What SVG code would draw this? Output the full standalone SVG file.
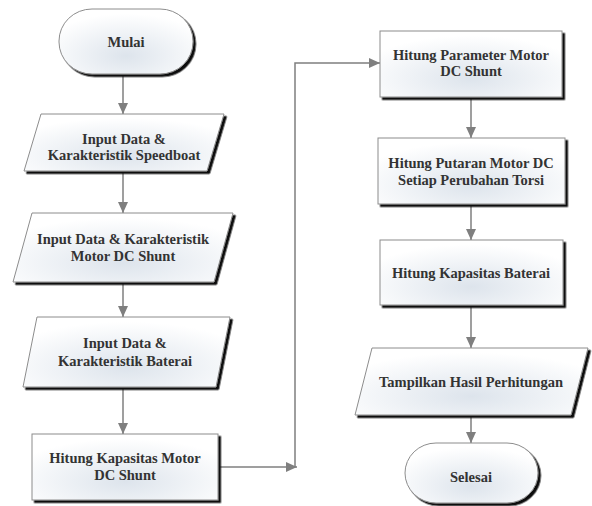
<svg xmlns="http://www.w3.org/2000/svg" width="592" height="506" viewBox="0 0 592 506">
<style>
.shape{fill:url(#fillg);stroke:#8c8c8c;stroke-width:1;filter:url(#sh)}
.t{font-weight:bold;font-size:14.5px;fill:#333;text-anchor:middle}
.c{fill:none;stroke:#7f7f7f;stroke-width:1.5}
</style>
<defs>
<radialGradient id="fillg" cx="50%" cy="72%" r="65%">
<stop offset="0" stop-color="#dde4ec"/>
<stop offset="1" stop-color="#ffffff"/>
</radialGradient>
<filter id="sh" x="-10%" y="-10%" width="125%" height="130%">
<feDropShadow dx="2.5" dy="2.5" stdDeviation="0.7" flood-color="#111" flood-opacity="1"/>
</filter>
<marker id="ah" markerWidth="11" markerHeight="10" refX="11" refY="5" orient="auto" markerUnits="userSpaceOnUse">
<path d="M0,0 L11,5 L0,10 Z" fill="#7f7f7f"/>
</marker>
</defs>
<rect width="592" height="506" fill="#fff"/>
<g id="connectors">
<line class="c" x1="123" y1="74" x2="123" y2="114" marker-end="url(#ah)"/>
<line class="c" x1="123" y1="171" x2="123" y2="213" marker-end="url(#ah)"/>
<line class="c" x1="123" y1="282" x2="123" y2="317" marker-end="url(#ah)"/>
<line class="c" x1="123" y1="387" x2="123" y2="434" marker-end="url(#ah)"/>
<line class="c" x1="218" y1="467" x2="297" y2="467" marker-end="url(#ah)"/>
<polyline class="c" points="295,467 295,63 380,63" marker-end="url(#ah)"/>
<line class="c" x1="471" y1="97" x2="471" y2="138" marker-end="url(#ah)"/>
<line class="c" x1="471" y1="204" x2="471" y2="240" marker-end="url(#ah)"/>
<line class="c" x1="471" y1="305" x2="471" y2="348" marker-end="url(#ah)"/>
<line class="c" x1="471" y1="415" x2="471" y2="443" marker-end="url(#ah)"/>
</g>
<g font-family="Liberation Serif, DejaVu Serif, serif">
<g id="mulai">
<rect class="shape" x="59" y="9" width="134" height="65" rx="33" ry="32"/>
<text class="t" x="126" y="47">Mulai</text>
</g>
<g id="input-speedboat">
<polygon class="shape" points="41,114 224,114 207,171 24,171"/>
<text class="t" x="124" y="144">Input Data &amp;</text>
<text class="t" x="124" y="160">Karakteristik Speedboat</text>
</g>
<g id="input-motor">
<polygon class="shape" points="32,213 233,213 214,282 13,282"/>
<text class="t" x="123" y="244">Input Data &amp; Karakteristik</text>
<text class="t" x="123" y="261">Motor DC Shunt</text>
</g>
<g id="input-baterai">
<polygon class="shape" points="37,317 230,317 216,387 23,387"/>
<text class="t" x="125" y="348">Input Data &amp;</text>
<text class="t" x="125" y="366">Karakteristik Baterai</text>
</g>
<g id="hitung-kapasitas-motor">
<rect class="shape" x="32" y="434" width="186" height="66"/>
<text class="t" x="125" y="463">Hitung Kapasitas Motor</text>
<text class="t" x="125" y="480">DC Shunt</text>
</g>
<g id="hitung-parameter">
<rect class="shape" x="380" y="31" width="182" height="66"/>
<text class="t" x="471" y="60">Hitung Parameter Motor</text>
<text class="t" x="471" y="76">DC Shunt</text>
</g>
<g id="hitung-putaran">
<rect class="shape" x="378" y="138" width="187" height="66"/>
<text class="t" x="471" y="168">Hitung Putaran Motor DC</text>
<text class="t" x="471" y="185">Setiap Perubahan Torsi</text>
</g>
<g id="hitung-kapasitas-baterai">
<rect class="shape" x="380" y="240" width="183" height="65"/>
<text class="t" x="471" y="278">Hitung Kapasitas Baterai</text>
</g>
<g id="tampilkan">
<polygon class="shape" points="372,348 588,348 571,415 355,415"/>
<text class="t" x="471" y="387">Tampilkan Hasil Perhitungan</text>
</g>
<g id="selesai">
<rect class="shape" x="405" y="443" width="133" height="60" rx="31" ry="30"/>
<text class="t" x="471" y="482">Selesai</text>
</g>
</g>
</svg>
